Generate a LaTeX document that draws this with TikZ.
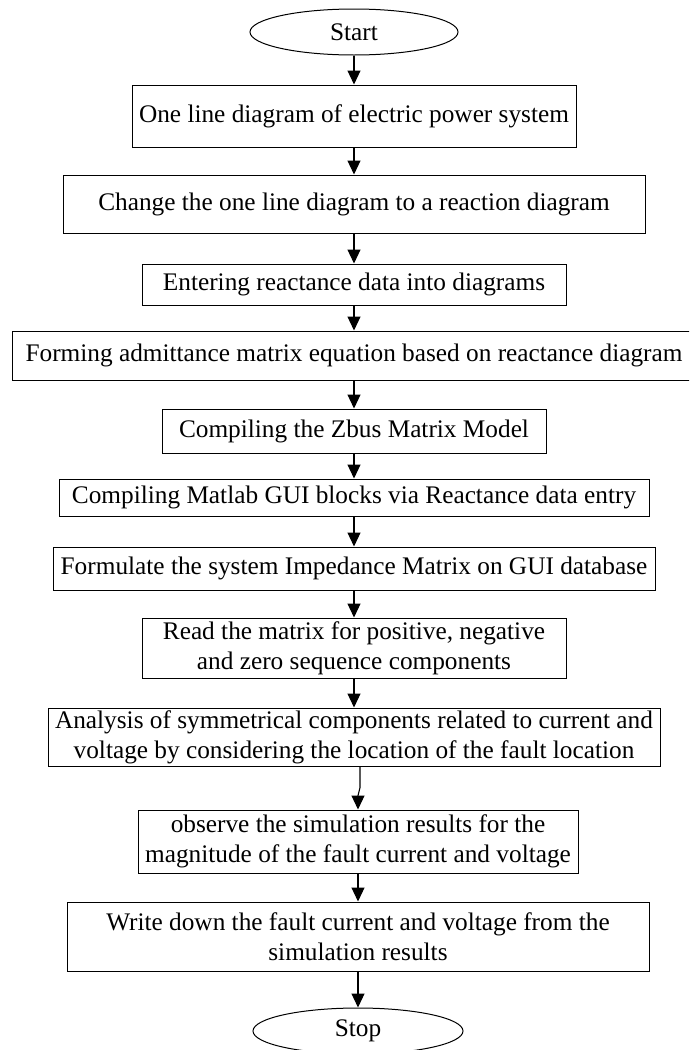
\documentclass[tikz,border=0pt]{standalone}
\usepackage{fontspec}
\setmainfont{Liberation Serif}
\usetikzlibrary{arrows.meta,shapes.geometric}
\tikzset{
  stepbox/.style={draw, line width=1pt, rectangle, inner sep=2pt, align=center,
    font=\fontsize{25.3}{30}\selectfont},
  term/.style={draw, line width=1pt, ellipse, inner sep=0pt, align=center,
    font=\fontsize{25.3}{30}\selectfont},
  arr/.style={draw, line width=1.1pt, -{Triangle[width=13pt,length=14pt]}}
}
\begin{document}
\begin{tikzpicture}[x=1pt,y=-1pt]
\clip (0,0) rectangle (689,1050);
\fill[white] (0,0) rectangle (689,1050);
\node[term, minimum width=208pt, minimum height=46pt] (start) at (354,32) {Start};
\node[stepbox, minimum width=444pt, minimum height=62pt] (b1) at (354,116) {One line diagram of electric power system};
\node[stepbox, minimum width=582pt, minimum height=58pt] (b2) at (354,204) {Change the one line diagram to a reaction diagram};
\node[stepbox, minimum width=424pt, minimum height=41pt] (b3) at (354,284.5) {Entering reactance data into diagrams};
\node[stepbox, minimum width=684pt, minimum height=49pt] (b4) at (354,355.5) {Forming admittance matrix equation based on reactance diagram};
\node[stepbox, minimum width=384pt, minimum height=44pt] (b5) at (354,431) {Compiling the Zbus Matrix Model};
\node[stepbox, minimum width=590pt, minimum height=37pt] (b6) at (354,497.5) {Compiling Matlab GUI blocks via Reactance data entry};
\node[stepbox, minimum width=602pt, minimum height=43pt] (b7) at (354,568.5) {Formulate the system Impedance Matrix on GUI database};
\node[stepbox, minimum width=424pt, minimum height=60pt] (b8) at (354,648) {Read the matrix for positive, negative\\and zero sequence components};
\node[stepbox, minimum width=612pt, minimum height=58pt] (b9) at (354,737) {Analysis of symmetrical components related to current and\\voltage by considering the location of the fault location};
\node[stepbox, minimum width=440pt, minimum height=63pt] (b10) at (358,841.5) {observe the simulation results for the\\magnitude of the fault current and voltage};
\node[stepbox, minimum width=582pt, minimum height=69pt] (b11) at (358,936.5) {Write down the fault current and voltage from the\\simulation results};
\node[term, minimum width=210pt, minimum height=46pt] (stop) at (358,1031) {Stop};
\draw[arr] (start) -- (b1);
\draw[arr] (b1) -- (b2);
\draw[arr] (b2) -- (b3);
\draw[arr] (b3) -- (b4);
\draw[arr] (b4) -- (b5);
\draw[arr] (b5) -- (b6);
\draw[arr] (b6) -- (b7);
\draw[arr] (b7) -- (b8);
\draw[arr] (b8) -- (b9);
\draw[arr] ([xshift=6pt]b9.south) -- ++(0,21) -- ++(-2,8) -- (b10.north);
\draw[arr] (b10) -- (b11);
\draw[arr] (b11) -- (stop);
\end{tikzpicture}
\end{document}
